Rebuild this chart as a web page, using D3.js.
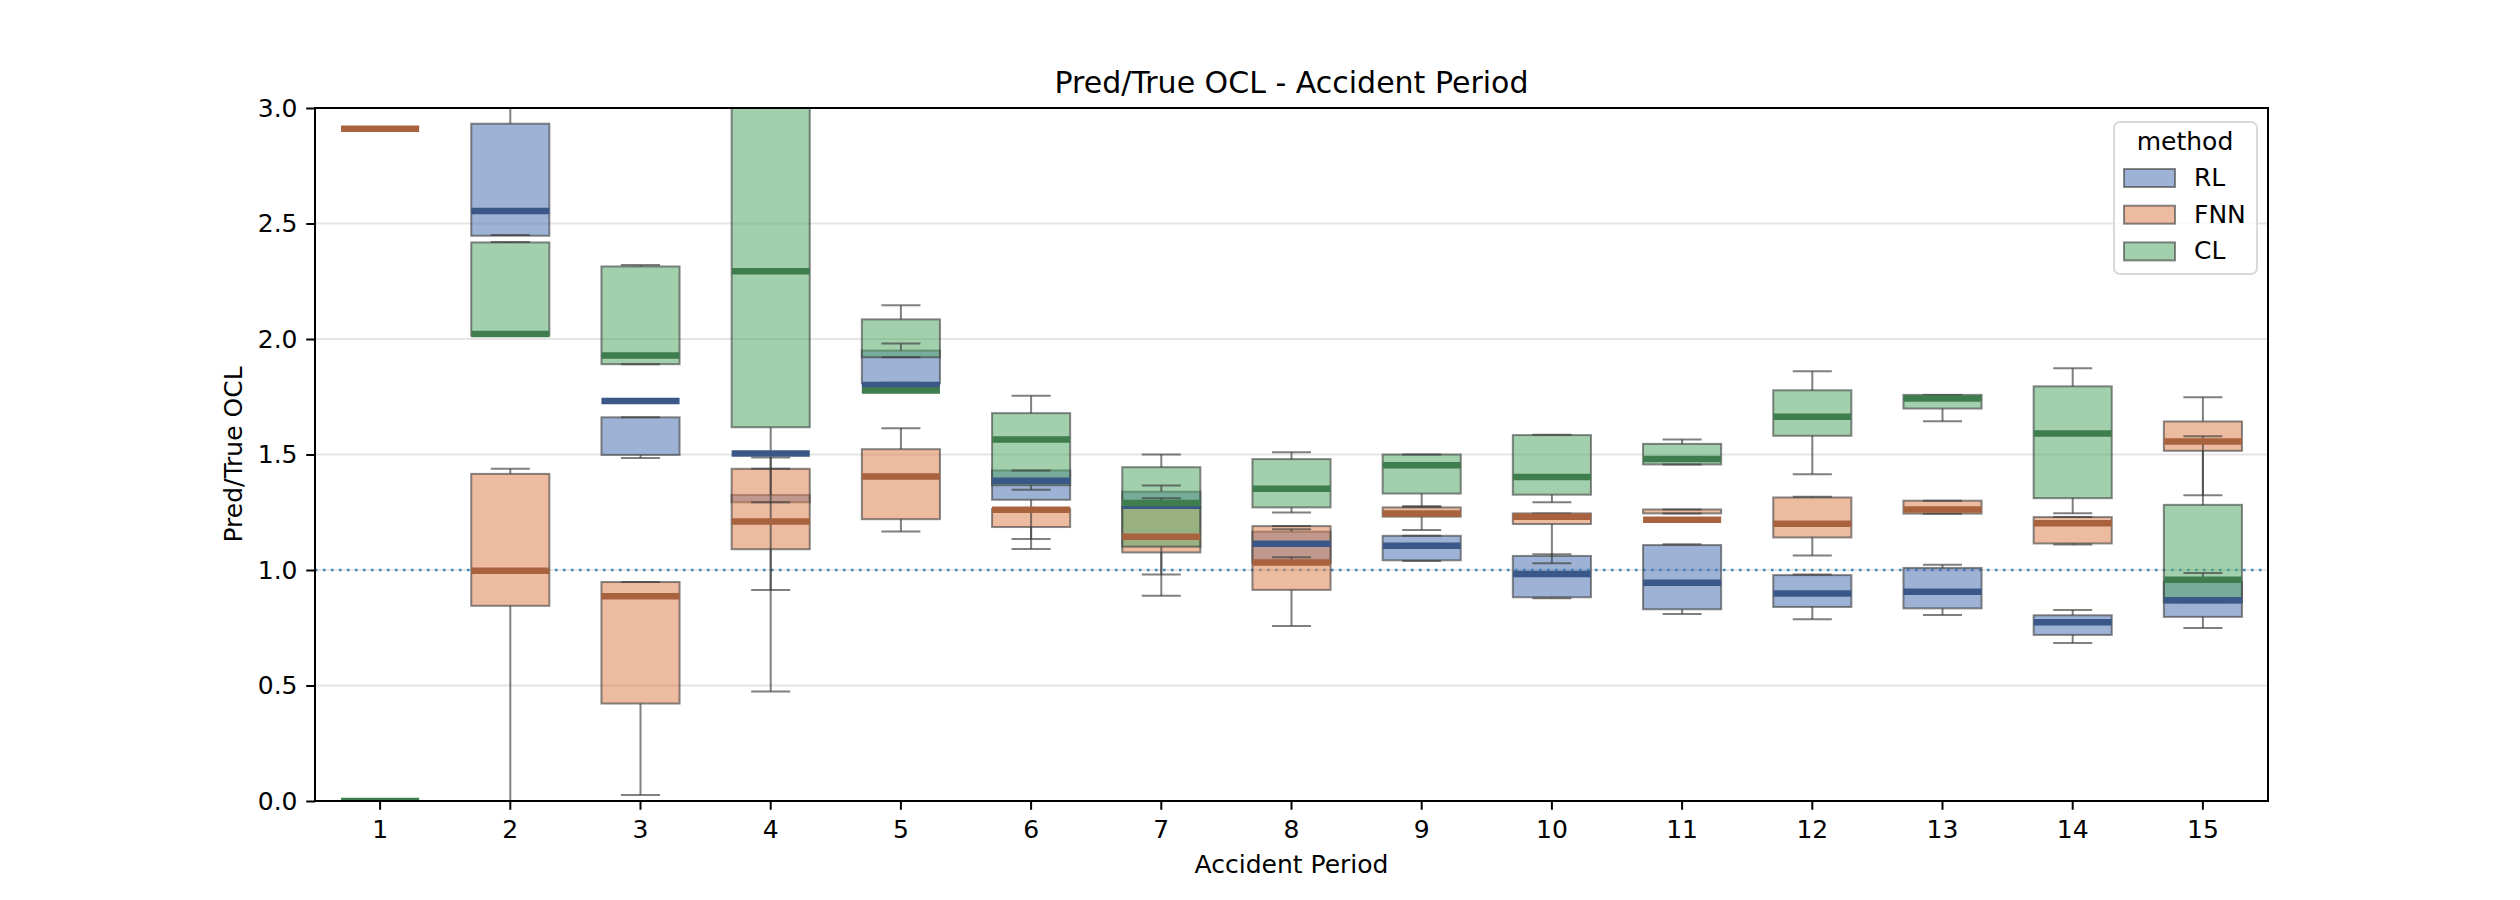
<!DOCTYPE html>
<meta charset="utf-8">
<head>
	<title>Pred/True OCL - Accident Period</title>
	<style>
		body { margin: 0; background: #ffffff; }
		svg { display: block; font-family: "DejaVu Sans", sans-serif; }
		.grid line { stroke: #e5e5e5; stroke-width: 2; }
		.axis text { font-size: 25px; fill: #000; font-family: "DejaVu Sans", sans-serif; }
		.axis line { stroke: #000; stroke-width: 2; }
		.box { stroke: rgb(60,60,60); stroke-opacity: 0.6; stroke-width: 2; fill-opacity: 0.55; }
		.whisker { stroke: rgb(60,60,60); stroke-opacity: 0.65; stroke-width: 2; }
		.median { stroke-width: 6.5; }
	</style>
	<script src="https://d3js.org/d3.v7.min.js"></script>
</head>
<body>
<div id="chart"></div>
<script>
	// categories and tick labels
	const periods = [1, 2, 3, 4, 5, 6, 7, 8, 9, 10, 11, 12, 13, 14, 15];
	const methods = ['RL', 'FNN', 'CL'];
	const yTicks = [0, 0.5, 1.0, 1.5, 2.0, 2.5, 3.0];

	// RL  (period 1 not visible in range)
	const rlQ1  = [null, 2.447, 1.498, 1.293, 1.808, 1.304, 1.271, 1.030, 1.042, 0.882, 0.830, 0.840, 0.834, 0.719, 0.797];
	const rlMed = [null, 2.554, 1.732, 1.504, 1.801, 1.386, 1.278, 1.114, 1.105, 0.983, 0.945, 0.898, 0.906, 0.774, 0.869];
	const rlQ3  = [null, 2.932, 1.661, 1.325, 1.950, 1.431, 1.339, 1.166, 1.148, 1.061, 1.108, 0.978, 1.009, 0.804, 0.951];
	const rlLo  = [null, 2.450, 1.485, 1.293, 1.811, 1.134, 1.271, 1.055, 1.039, 0.878, 0.810, 0.787, 0.805, 0.684, 0.749];
	const rlHi  = [null, 3.300, 1.661, 1.487, 1.981, 1.431, 1.366, 1.176, 1.148, 1.068, 1.111, 0.981, 1.023, 0.827, 0.987];

	// FNN
	const fnnQ1  = [2.91, 0.845, 0.422, 1.090, 1.220, 1.186, 1.076, 0.914, 1.231, 1.199, 1.245, 1.141, 1.244, 1.115, 1.516];
	const fnnMed = [2.91, 0.997, 0.886, 1.210, 1.405, 1.261, 1.144, 1.032, 1.245, 1.231, 1.218, 1.200, 1.262, 1.202, 1.556];
	const fnnQ3  = [2.91, 1.416, 0.948, 1.438, 1.523, 1.264, 1.271, 1.190, 1.271, 1.245, 1.262, 1.314, 1.300, 1.229, 1.643];
	const fnnLo  = [2.91, -0.10, 0.026, 0.913, 1.167, 1.091, 0.981, 0.758, 1.173, 1.029, 1.245, 1.063, 1.244, 1.110, 1.324];
	const fnnHi  = [2.91, 1.438, 0.948, 1.438, 1.614, 1.264, 1.311, 1.190, 1.275, 1.245, 1.262, 1.317, 1.300, 1.229, 1.748];

	// CL
	const clQ1  = [0.0, 2.015, 1.891, 1.618, 1.921, 1.367, 1.101, 1.271, 1.331, 1.326, 1.457, 1.581, 1.699, 1.311, 0.860];
	const clMed = [0.0, 2.022, 1.929, 2.293, 1.777, 1.565, 1.290, 1.352, 1.454, 1.403, 1.481, 1.663, 1.742, 1.591, 0.958];
	const clQ3  = [0.0, 2.418, 2.314, 3.400, 2.085, 1.679, 1.445, 1.480, 1.500, 1.584, 1.546, 1.778, 1.758, 1.795, 1.282];
	const clLo  = [0.0, 2.015, 1.891, 0.474, 1.921, 1.347, 0.888, 1.249, 1.275, 1.293, 1.457, 1.415, 1.644, 1.246, 0.860];
	const clHi  = [0.0, 2.420, 2.320, 3.800, 2.146, 1.754, 1.500, 1.510, 1.500, 1.586, 1.565, 1.860, 1.758, 1.873, 1.579];

	const series = {
		RL:  {q1: rlQ1,  med: rlMed,  q3: rlQ3,  lo: rlLo,  hi: rlHi},
		FNN: {q1: fnnQ1, med: fnnMed, q3: fnnQ3, lo: fnnLo, hi: fnnHi},
		CL:  {q1: clQ1,  med: clMed,  q3: clQ3,  lo: clLo,  hi: clHi}
	};
	const fillColor = {RL: '#4C72B0', FNN: '#DD8452', CL: '#55A868'};
	const medColor = {RL: '#3a5887', FNN: '#a8623d', CL: '#3f7d4f'};

	const W = 2520, H = 900;
	const M = {left: 315, right: 2268, top: 108, bottom: 801};

	const svg = d3.select('#chart').append('svg').attr('width', W).attr('height', H);
	svg.append('rect').attr('width', W).attr('height', H).attr('fill', '#fff');

	const x = d3.scaleBand().domain(periods).range([M.left, M.right]).paddingInner(0).paddingOuter(0);
	const y = d3.scaleLinear().domain([0, 3]).range([M.bottom, M.top]);
	const cx = p => x(p) + x.bandwidth() / 2;
	const bw = x.bandwidth() * 0.6;

	svg.append('clipPath').attr('id', 'plotClip').append('rect')
		.attr('x', M.left).attr('y', M.top).attr('width', M.right - M.left).attr('height', M.bottom - M.top);

	//grid
	svg.append('g').attr('class', 'grid').selectAll('line').data(yTicks).join('line')
		.attr('x1', M.left).attr('x2', M.right).attr('y1', d => y(d)).attr('y2', d => y(d));

	//reference line at 1
	svg.append('line').attr('x1', M.left).attr('x2', M.right).attr('y1', y(1)).attr('y2', y(1))
		.attr('stroke', '#1f77b4').attr('stroke-opacity', 0.85).attr('stroke-width', 2.5).attr('stroke-dasharray', '2.5,5.5');

	//flatten to rows
	const rows = [];
	periods.forEach((p, i) => methods.forEach(m => {
		const s = series[m];
		if (s.med[i] == null) return;
		rows.push({p, m, q1: s.q1[i], med: s.med[i], q3: s.q3[i], lo: s.lo[i], hi: s.hi[i]});
	}));

	const plot = svg.append('g').attr('clip-path', 'url(#plotClip)');

	plot.append('g').selectAll('rect').data(rows.filter(d => d.q3 !== d.q1)).join('rect')
		.attr('class', 'box')
		.attr('x', d => cx(d.p) - bw / 2).attr('width', bw)
		.attr('y', d => y(Math.max(d.q1, d.q3))).attr('height', d => Math.abs(y(d.q1) - y(d.q3)))
		.attr('fill', d => fillColor[d.m]);

	const wg = plot.append('g');
	rows.forEach(d => {
		[[d.q1, d.lo], [d.q3, d.hi]].forEach(([a, b]) => {
			if (a === b) return;
			wg.append('line').attr('class', 'whisker')
				.attr('x1', cx(d.p)).attr('x2', cx(d.p)).attr('y1', y(a)).attr('y2', y(b));
		});
		if (d.q1 === d.q3 && d.lo === d.hi) return;
		[d.lo, d.hi].forEach(v => {
			wg.append('line').attr('class', 'whisker')
				.attr('x1', cx(d.p) - bw / 4).attr('x2', cx(d.p) + bw / 4).attr('y1', y(v)).attr('y2', y(v));
		});
	});

	plot.append('g').selectAll('line').data(rows).join('line')
		.attr('class', 'median')
		.attr('x1', d => cx(d.p) - bw / 2).attr('x2', d => cx(d.p) + bw / 2)
		.attr('y1', d => y(d.med)).attr('y2', d => y(d.med))
		.attr('stroke', d => medColor[d.m]);

	//axes
	const yAxis = svg.append('g').attr('class', 'axis').attr('transform', `translate(${M.left},0)`)
		.call(d3.axisLeft(y).tickValues(yTicks).tickFormat(d3.format('.1f')).tickSize(8.75).tickPadding(8.75));
	yAxis.select('.domain').remove();

	const xAxis = svg.append('g').attr('class', 'axis').attr('transform', `translate(0,${M.bottom})`)
		.call(d3.axisBottom(x).tickSize(8.75).tickPadding(8.75));
	xAxis.select('.domain').remove();
	xAxis.selectAll('text').attr('dy', '0.78em');

	svg.append('rect').attr('x', M.left).attr('y', M.top).attr('width', M.right - M.left).attr('height', M.bottom - M.top)
		.attr('fill', 'none').attr('stroke', '#000').attr('stroke-width', 2);

	//labels
	svg.append('text').attr('x', (M.left + M.right) / 2).attr('y', 93).attr('text-anchor', 'middle')
		.attr('font-size', 30).text('Pred/True OCL - Accident Period');
	svg.append('text').attr('x', (M.left + M.right) / 2).attr('y', 873).attr('text-anchor', 'middle')
		.attr('font-size', 25).text('Accident Period');
	svg.append('text').attr('transform', `translate(242,${(M.top + M.bottom) / 2}) rotate(-90)`).attr('text-anchor', 'middle')
		.attr('font-size', 25).text('Pred/True OCL');

	//legend
	const lg = svg.append('g');
	lg.append('rect').attr('x', 2114).attr('y', 122).attr('width', 143).attr('height', 152).attr('rx', 6)
		.attr('fill', '#fff').attr('fill-opacity', 0.8).attr('stroke', '#d9d9d9').attr('stroke-width', 2);
	lg.append('text').attr('x', 2185).attr('y', 150).attr('text-anchor', 'middle').attr('font-size', 25).text('method');
	methods.forEach((m, i) => {
		const yy = 169 + i * 36.7;
		lg.append('rect').attr('class', 'box').attr('x', 2124).attr('y', yy).attr('width', 51).attr('height', 18)
			.attr('fill', fillColor[m]);
		lg.append('text').attr('x', 2194).attr('y', yy + 17).attr('font-size', 25).text(m);
	});
</script>
</body>
